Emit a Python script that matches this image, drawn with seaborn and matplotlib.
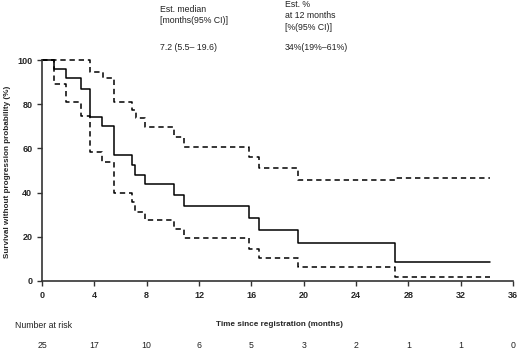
import matplotlib
matplotlib.use("Agg")
import matplotlib.pyplot as plt
import matplotlib.transforms as mtransforms
import pandas as pd
import seaborn as sns

sns.set_style("ticks")
plt.rcParams["font.family"] = ["Liberation Sans", "DejaVu Sans"]

# Kaplan-Meier estimate and 95% CI (step points, months / %)
km_time = [0, 0.92, 1.81, 2.98, 3.69, 4.59, 5.53, 6.88, 7.14, 7.85, 10.09, 10.83, 15.83, 16.55, 19.57, 27.0, 34.25]
km_surv = [100, 96, 92, 87, 74, 70, 57, 52.5, 48, 43.7, 39, 34, 28.5, 23, 17.2, 8.7, 8.7]

upper_time = [0, 3.67, 4.64, 5.5, 6.86, 7.19, 7.85, 10.09, 10.83, 15.83, 16.55, 19.57, 27.0, 34.25]
upper_surv = [100, 94.4, 91.7, 81, 77.4, 73.6, 69.5, 65.3, 60.8, 56, 51, 45.7, 46.7, 46.7]

lower_time = [0, 0.92, 1.81, 2.98, 3.69, 4.59, 5.53, 6.88, 7.14, 7.85, 10.09, 10.83, 15.83, 16.55, 19.57, 27.0, 34.25]
lower_surv = [100, 89, 80.8, 74.8, 58.5, 54, 39.8, 35.6, 31.4, 27.6, 23.5, 19.5, 14.5, 10.4, 6.5, 2, 2]

risk_times = [0, 4, 8, 12, 16, 20, 24, 28, 32, 36]
at_risk = [25, 17, 10, 6, 5, 3, 2, 1, 1, 0]

fig = plt.figure(figsize=(5.2, 3.52), dpi=100)
ax = fig.add_axes([42 / 520, 71 / 352, 471 / 520, 221 / 352])

km = pd.DataFrame({"time": km_time, "surv": km_surv})
up = pd.DataFrame({"time": upper_time, "surv": upper_surv})
lo = pd.DataFrame({"time": lower_time, "surv": lower_surv})

sns.lineplot(data=km, x="time", y="surv", drawstyle="steps-post", estimator=None,
             color="black", linewidth=1.1, ax=ax)
for d in (up, lo):
    sns.lineplot(data=d, x="time", y="surv", drawstyle="steps-post", estimator=None,
                 color="black", linewidth=1.1, linestyle=(0, (3.5, 2.5)), ax=ax)
for line in ax.lines:
    line.set_clip_on(False)

ax.set_xlim(0, 36)
ax.set_ylim(0, 100)
ax.set_xticks(risk_times)
ax.set_yticks([0, 20, 40, 60, 80, 100])
ax.tick_params(axis="both", labelsize=6.5, length=3.5, width=1, color="#333333", pad=3.5)
for lab in ax.get_xticklabels() + ax.get_yticklabels():
    lab.set_fontweight("bold")
sns.despine(ax=ax)
for sp in ("left", "bottom"):
    ax.spines[sp].set_color("#333333")
    ax.spines[sp].set_linewidth(1.2)

ax.set_xlabel("")
ax.set_ylabel("")
fig.text(8 / 520, 1 - 172 / 352, "Survival without progression probability (%)", fontsize=5.9,
         fontweight="bold", rotation=90, ha="center", va="center")

# texts below the plot
fig.text(279 / 520, 1 - 325 / 352, "Time since registration (months)", fontsize=5.9,
         fontweight="bold", ha="center", va="center")
fig.text(15 / 520, 1 - 325 / 352, "Number at risk", fontsize=6.3, ha="left", va="center",
         color="#222222")
trans = mtransforms.blended_transform_factory(ax.transData, fig.transFigure)
for t, n in zip(risk_times, at_risk):
    ax.text(t, 1 - 345 / 352, str(n), fontsize=6.3, ha="center", va="center",
            transform=trans, color="#222222")

# header texts
fig.text(160 / 520, 1 - 15 / 352, "Est. median\n[months(95% CI)]", fontsize=6.3,
         ha="left", va="center", linespacing=1.35, color="#222222")
fig.text(160 / 520, 1 - 48 / 352, "7.2 (5.5\u2013 19.6)", fontsize=6.3, ha="left", va="center",
         color="#222222")
fig.text(285 / 520, 1 - 16 / 352, "Est. %\nat 12 months\n[%(95% CI)]", fontsize=6.3,
         ha="left", va="center", linespacing=1.35, color="#222222")
fig.text(285 / 520, 1 - 48 / 352, "34%(19%\u201361%)", fontsize=6.3, ha="left", va="center",
         color="#222222")

fig.savefig("out.png", dpi=100)
